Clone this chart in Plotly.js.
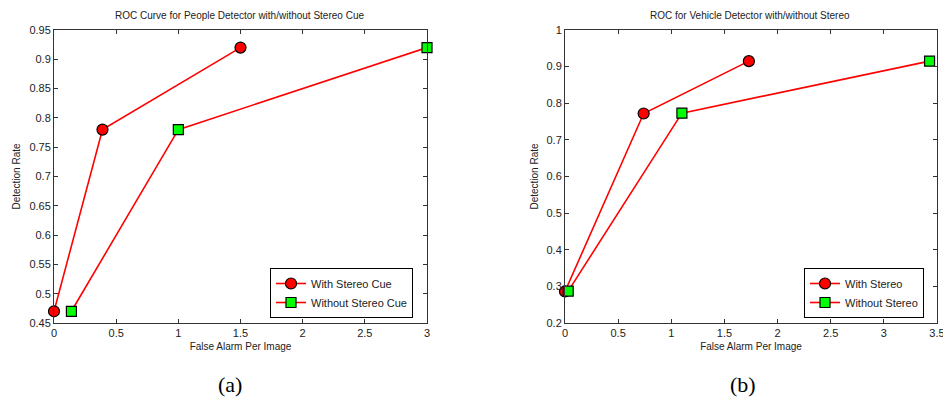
<!DOCTYPE html>
<html><head><meta charset="utf-8">
<script src="https://cdn.plot.ly/plotly-3.0.1.min.js"></script>
<style>html,body{margin:0;padding:0;background:#fff}#c{width:943px;height:398px}</style>
</head><body><div id="c"></div>
<script>
// Panel (a): People detector
const peopleWithX = [0, 0.39, 1.5];
const peopleWithY = [0.47, 0.78, 0.92];
const peopleWithoutX = [0.14, 1.0, 3.0];
const peopleWithoutY = [0.47, 0.78, 0.92];
// Panel (b): Vehicle detector
const vehicleWithX = [0.0, 0.74, 1.73];
const vehicleWithY = [0.286, 0.772, 0.915];
const vehicleWithoutX = [0.03, 1.1, 3.43];
const vehicleWithoutY = [0.287, 0.773, 0.915];

const yTicksA = [0.45,0.5,0.55,0.6,0.65,0.7,0.75,0.8,0.85,0.9,0.95];
const yTickTextA = ["0.45","0.5","0.55","0.6","0.65","0.7","0.75","0.8","0.85","0.9","0.95"];
const xTicksA = [0,0.5,1,1.5,2,2.5,3];
const xTickTextA = ["0","0.5","1","1.5","2","2.5","3"];
const yTicksB = [0.2,0.3,0.4,0.5,0.6,0.7,0.8,0.9,1];
const yTickTextB = ["0.2","0.3","0.4","0.5","0.6","0.7","0.8","0.9","1"];
const xTicksB = [0,0.5,1,1.5,2,2.5,3,3.5];
const xTickTextB = ["0","0.5","1","1.5","2","2.5","3","3.5"];

const W = 943, H = 398;
const red = '#ff0000', green = '#00ff00';
const circ = {symbol:'circle', size:11, color:red, line:{color:'#000', width:1.2}};
const sq = {symbol:'square', size:10, color:green, line:{color:'#000', width:1.2}};
const ln = {color:red, width:1.6};

const traces = [
  {x:peopleWithX, y:peopleWithY, mode:'lines+markers', name:'With Stereo Cue', line:ln, marker:circ, xaxis:'x', yaxis:'y', legend:'legend', cliponaxis:false},
  {x:peopleWithoutX, y:peopleWithoutY, mode:'lines+markers', name:'Without Stereo Cue', line:ln, marker:sq, xaxis:'x', yaxis:'y', legend:'legend', cliponaxis:false},
  {x:vehicleWithX, y:vehicleWithY, mode:'lines+markers', name:'With Stereo', line:ln, marker:circ, xaxis:'x2', yaxis:'y2', legend:'legend2', cliponaxis:false},
  {x:vehicleWithoutX, y:vehicleWithoutY, mode:'lines+markers', name:'Without Stereo', line:ln, marker:sq, xaxis:'x2', yaxis:'y2', legend:'legend2', cliponaxis:false}
];

const axBase = {showline:true, linecolor:'#333', linewidth:1, mirror:'ticks', ticks:'inside', ticklen:4, tickcolor:'#333',
  showgrid:false, zeroline:false, tickfont:{family:'Liberation Sans, Arial', size:11, color:'#222'}, tickmode:'array',
  ticklabeloverflow:'allow'};
const ydom = [1-323/H, 1-30/H];
const ttl = {family:'Liberation Sans, Arial', size:10, color:'#222'};
const lgFont = {family:'Liberation Sans, Arial', size:11, color:'#222'};

const layout = {
  width:W, height:H, margin:{l:0,r:0,t:0,b:0}, paper_bgcolor:'#fff', plot_bgcolor:'#fff',
  xaxis: Object.assign({}, axBase, {domain:[54/W, 427/W], range:[0,3], tickvals:xTicksA, ticktext:xTickTextA, anchor:'y',
    title:{text:'False Alarm Per Image', font:ttl, standoff:4}}),
  yaxis: Object.assign({}, axBase, {domain:ydom, range:[0.45,0.95], tickvals:yTicksA, ticktext:yTickTextA, anchor:'x',
    title:{text:'Detection Rate', font:ttl, standoff:6}}),
  xaxis2: Object.assign({}, axBase, {domain:[565/W, 937/W], range:[0,3.5], tickvals:xTicksB, ticktext:xTickTextB, anchor:'y2',
    title:{text:'False Alarm Per Image', font:ttl, standoff:4}}),
  yaxis2: Object.assign({}, axBase, {domain:ydom, range:[0.2,1], tickvals:yTicksB, ticktext:yTickTextB, anchor:'x2',
    title:{text:'Detection Rate', font:ttl, standoff:6}}),
  legend: {x:270/W, y:1-318/H, xanchor:'left', yanchor:'bottom', bgcolor:'#fff', bordercolor:'#000', borderwidth:1,
    font:lgFont, tracegroupgap:0, itemwidth:30},
  legend2: {x:804/W, y:1-318/H, xanchor:'left', yanchor:'bottom', bgcolor:'#fff', bordercolor:'#000', borderwidth:1,
    font:lgFont, tracegroupgap:0, itemwidth:30},
  showlegend:true,
  annotations: [
    {text:'ROC Curve for People Detector with/without Stereo Cue', xref:'paper', yref:'paper', x:240/W, y:1-16/H, showarrow:false,
      font:{family:'Liberation Sans, Arial', size:10, color:'#222'}, xanchor:'center', yanchor:'middle'},
    {text:'ROC for Vehicle Detector with/without Stereo', xref:'paper', yref:'paper', x:750/W, y:1-16/H, showarrow:false,
      font:{family:'Liberation Sans, Arial', size:10, color:'#222'}, xanchor:'center', yanchor:'middle'},
    {text:'(a)', xref:'paper', yref:'paper', x:230/W, y:1-384/H, showarrow:false,
      font:{family:'Liberation Serif, Times New Roman', size:22, color:'#000'}, xanchor:'center', yanchor:'middle'},
    {text:'(b)', xref:'paper', yref:'paper', x:743/W, y:1-384/H, showarrow:false,
      font:{family:'Liberation Serif, Times New Roman', size:22, color:'#000'}, xanchor:'center', yanchor:'middle'}
  ]
};
Plotly.newPlot('c', traces, layout, {displayModeBar:false, staticPlot:true});
</script></body></html>
